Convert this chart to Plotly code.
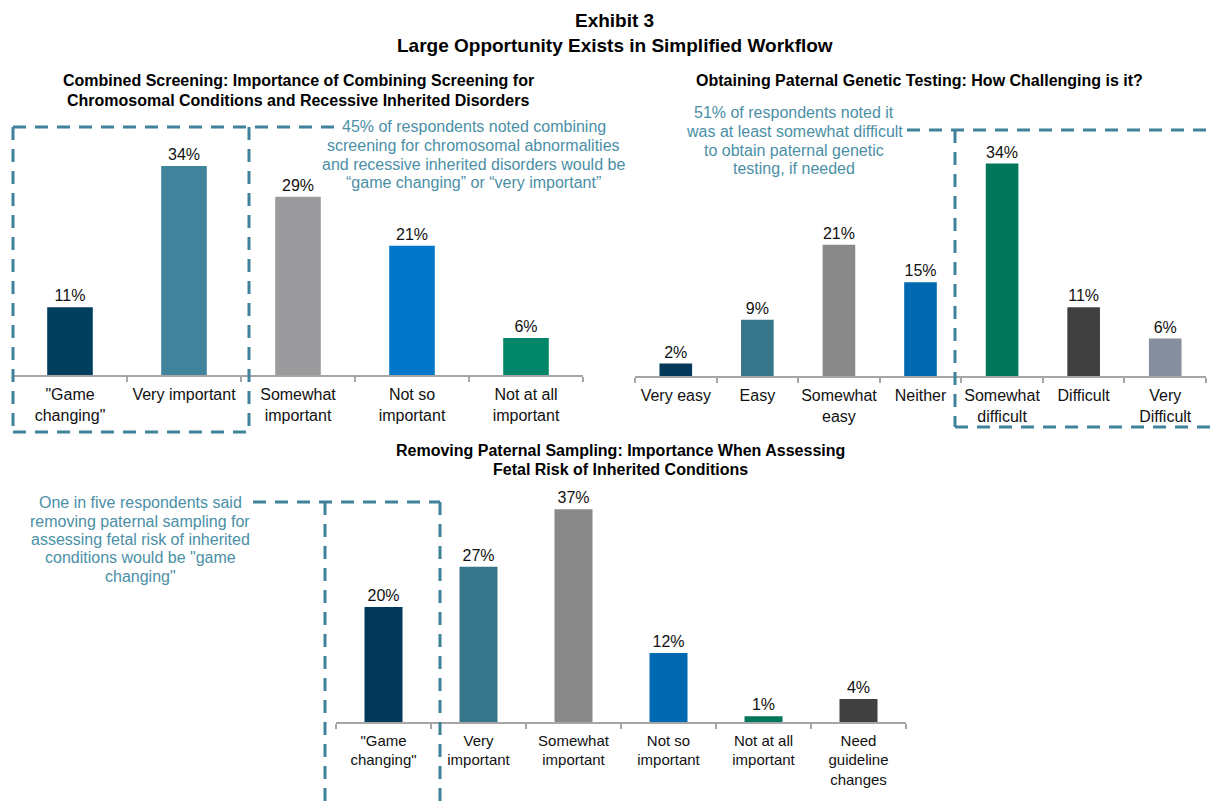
import plotly.graph_objects as go

W, H = 1213, 802
FONT = "Liberation Sans, Arial, sans-serif"

# ---- data ----
combined_cats = ['"Game<br>changing"', "Very important", "Somewhat<br>important",
                 "Not so<br>important", "Not at all<br>important"]
combined_vals = [11, 34, 29, 21, 6]
combined_colors = ["#023F5F", "#3F849B", "#9B9B9D", "#0077C8", "#00876A"]

paternal_cats = ["Very easy", "Easy", "Somewhat<br>easy", "Neither",
                 "Somewhat<br>difficult", "Difficult", "Very<br>Difficult"]
paternal_vals = [2, 9, 21, 15, 34, 11, 6]
paternal_colors = ["#02395A", "#37768A", "#898989", "#0069B1", "#00765A", "#404040", "#868F9E"]

removing_cats = ['"Game<br>changing"', "Very<br>important", "Somewhat<br>important",
                 "Not so<br>important", "Not at all<br>important", "Need<br>guideline<br>changes"]
removing_vals = [20, 27, 37, 12, 1, 4]
removing_colors = ["#02395A", "#37768A", "#898989", "#0069B1", "#00765A", "#404040"]


def px(x):
    return x / W


def py(y):
    return 1 - y / H


fig = go.Figure()

panels = [
    # (cats, vals, colors, axis suffix, x px domain, baseline px, top px, tick font size)
    (combined_cats, combined_vals, combined_colors, "", (13, 583), 375, 129, 16),
    (paternal_cats, paternal_vals, paternal_colors, "2", (635, 1206), 376, 126, 16),
    (removing_cats, removing_vals, removing_colors, "3", (336, 906), 722, 492, 15),
]

for cats, vals, colors, sfx, (x0, x1), base, top, tfs in panels:
    fig.add_trace(go.Bar(
        x=cats, y=vals, marker=dict(color=colors, line=dict(width=0)),
        text=[f"{v}%" for v in vals], textposition="outside",
        textfont=dict(size=16, color="#111111", family=FONT),
        cliponaxis=False, xaxis="x" + sfx, yaxis="y" + sfx,
        showlegend=False, hoverinfo="skip",
    ))
    fig.update_layout(**{
        "xaxis" + sfx: dict(
            domain=[px(x0), px(x1)], anchor="y" + sfx, type="category",
            showline=True, linecolor="#A6A6A6", linewidth=1.5,
            ticks="outside", tickson="boundaries", ticklen=5,
            tickcolor="#A6A6A6", tickwidth=1.5, tickangle=0,
            ticklabelstandoff=4,
            tickfont=dict(size=tfs, color="#111111", family=FONT),
            showgrid=False, zeroline=False, fixedrange=True,
        ),
        "yaxis" + sfx: dict(
            domain=[py(base), py(top)], anchor="x" + sfx, range=[0, 40],
            visible=False, showgrid=False, zeroline=False, fixedrange=True,
        ),
    })

fig.update_layout(bargap=0.6)

annotations = []


def text(x, y, s, size, color="#000000", bold=False):
    if bold:
        s = f"<b>{s}</b>"
    annotations.append(dict(
        x=px(x), y=py(y), xref="paper", yref="paper", text=s, showarrow=False,
        xanchor="center", yanchor="middle", align="center",
        font=dict(size=size, color=color, family=FONT),
    ))


def block(x, y0, step, lines, size, color="#000000", bold=False):
    for i, line in enumerate(lines):
        text(x, y0 + i * step, line, size, color=color, bold=bold)


# main title
text(615, 20, "Exhibit 3", 19, bold=True)
text(615, 46, "Large Opportunity Exists in Simplified Workflow", 19, bold=True)

# panel titles
block(298, 80, 20, ["Combined Screening: Importance of Combining Screening for",
                    "Chromosomal Conditions and Recessive Inherited Disorders"], 16, bold=True)
block(919, 80, 20, ["Obtaining Paternal Genetic Testing: How Challenging is it?"], 16, bold=True)
block(620, 450, 19, ["Removing Paternal Sampling: Importance When Assessing",
                     "Fetal Risk of Inherited Conditions"], 16, bold=True)

# callout notes
NOTE = "#4B8FA6"
block(474, 127, 18.5, ["45% of respondents noted combining",
                       "screening for chromosomal abnormalities",
                       "and recessive inherited disorders would be",
                       "\u201cgame changing\u201d or \u201cvery important\u201d"], 16, color=NOTE)
block(794, 113, 18.5, ["51% of respondents noted it",
                       "was at least somewhat difficult",
                       "to obtain paternal genetic",
                       "testing, if needed"], 16, color=NOTE)
block(140, 503, 18.3, ["One in five respondents said",
                       "removing paternal sampling for",
                       "assessing fetal risk of inherited",
                       "conditions would be \"game",
                       "changing\""], 16, color=NOTE)

fig.update_layout(annotations=annotations)

# dashed highlight boxes
DASH = dict(color="#3F8299", width=3, dash="13px,9px")
segments = [
    # combined screening
    (13, 127, 335, 127), (13, 127, 13, 432), (13, 432, 249, 432), (249, 127, 249, 432),
    # paternal testing
    (907, 130, 1213, 130), (955, 130, 955, 427), (955, 427, 1213, 427),
    # removing paternal sampling
    (253, 502, 440, 502), (325, 502, 325, 802), (440, 502, 440, 802),
]
fig.update_layout(shapes=[
    dict(type="line", xref="paper", yref="paper",
         x0=px(a), y0=py(b), x1=px(c), y1=py(d), line=DASH, layer="above")
    for a, b, c, d in segments
])

fig.update_layout(
    width=W, height=H, margin=dict(l=0, r=0, t=0, b=0),
    paper_bgcolor="white", plot_bgcolor="white",
    font=dict(family=FONT, color="#111111"),
)

fig.write_html("out.html", config={"displayModeBar": False})
